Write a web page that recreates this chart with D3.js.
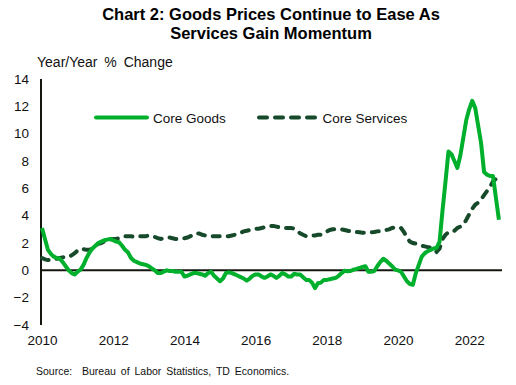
<!DOCTYPE html>
<html>
<head>
<meta charset="utf-8">
<script src="https://cdn.jsdelivr.net/npm/d3@7"></script>
<style>
  html, body { margin: 0; padding: 0; background: #fff; }
  svg { display: block; font-family: "Liberation Sans", Arial, sans-serif; }
</style>
</head>
<body>
<svg id="chart" width="516" height="385"></svg>
<script>
// ---- Data (monthly, Jan 2010 – Nov 2022) ----
const startYear = 2010;
const seriesNames = ["Core Goods", "Core Services"];
const coreGoods = [
  // 2010
  3.1, 2.3, 1.5, 1.2, 1.0, 0.9, 0.85, 0.6, 0.3, 0.0, -0.2, -0.3,
  // 2011
  -0.1, 0.05, 0.4, 0.9, 1.3, 1.6, 1.8, 2.0, 2.1, 2.2, 2.25, 2.3,
  // 2012
  2.2, 2.1, 2.05, 1.8, 1.5, 1.3, 0.9, 0.7, 0.6, 0.5, 0.45, 0.4,
  // 2013
  0.3, 0.15, 0.0, -0.2, -0.2, -0.1, 0.0, -0.05, -0.05, -0.1, -0.1, -0.1,
  // 2014
  -0.45, -0.4, -0.3, -0.2, -0.2, -0.25, -0.3, -0.4, -0.2, -0.1, -0.4, -0.6,
  // 2015
  -0.8, -0.6, -0.2, -0.15, -0.2, -0.3, -0.4, -0.5, -0.6, -0.75, -0.6, -0.4,
  // 2016
  -0.3, -0.3, -0.45, -0.55, -0.45, -0.3, -0.4, -0.55, -0.4, -0.2, -0.3, -0.45,
  // 2017
  -0.45, -0.25, -0.3, -0.3, -0.5, -0.7, -0.7, -0.9, -1.3, -0.95, -0.9, -0.7,
  // 2018
  -0.7, -0.65, -0.6, -0.55, -0.4, -0.2, -0.03, -0.07, -0.05, 0.05, 0.1, 0.17,
  // 2019
  0.25, 0.3, -0.1, -0.1, -0.05, 0.3, 0.6, 0.85, 0.7, 0.5, 0.3, 0.05,
  // 2020
  0.0, -0.1, -0.45, -0.8, -1.0, -1.05, -0.2, 0.4, 1.0, 1.25, 1.4, 1.5,
  // 2021
  1.6, 1.65, 2.1, 4.4, 6.5, 8.7, 8.5, 8.0, 7.5, 8.4, 9.7, 11.0,
  // 2022
  11.8, 12.4, 11.9, 10.6, 9.3, 7.2, 7.0, 6.9, 6.9, 5.3, 3.7
];
const coreServices = [
  // 2010
  0.9, 0.8, 0.75, 0.75, 0.8, 0.85, 0.9, 0.95, 1.0, 1.0, 1.1, 1.25,
  // 2011
  1.45, 1.57, 1.55, 1.5, 1.5, 1.6, 1.8, 1.95, 2.0, 2.1, 2.2, 2.25,
  // 2012
  2.3, 2.3, 2.35, 2.45, 2.5, 2.5, 2.5, 2.45, 2.45, 2.5, 2.5, 2.5,
  // 2013
  2.55, 2.5, 2.45, 2.35, 2.3, 2.35, 2.4, 2.4, 2.35, 2.3, 2.3, 2.35,
  // 2014
  2.35, 2.4, 2.5, 2.55, 2.7, 2.7, 2.6, 2.55, 2.5, 2.5, 2.5, 2.5,
  // 2015
  2.5, 2.5, 2.5, 2.5, 2.55, 2.6, 2.7, 2.75, 2.85, 2.9, 2.95, 3.0,
  // 2016
  3.05, 3.05, 3.1, 3.15, 3.2, 3.25, 3.25, 3.2, 3.15, 3.1, 3.1, 3.1,
  // 2017
  3.1, 3.05, 2.9, 2.7, 2.6, 2.5, 2.5, 2.55, 2.55, 2.6, 2.6, 2.7,
  // 2018
  2.85, 2.95, 3.0, 3.0, 3.0, 3.0, 2.95, 2.9, 2.85, 2.8, 2.8, 2.78,
  // 2019
  2.75, 2.75, 2.75, 2.78, 2.8, 2.85, 2.87, 2.9, 2.95, 3.0, 3.1, 3.15,
  // 2020
  3.15, 3.1, 2.8, 2.4, 2.1, 2.0, 1.95, 1.9, 1.8, 1.75, 1.7, 1.65,
  // 2021
  1.5, 1.35, 1.6, 2.3, 2.6, 2.8, 2.9, 2.9, 3.1, 3.2, 3.35, 3.7,
  // 2022
  4.1, 4.5, 4.8, 4.95, 5.2, 5.5, 5.8, 6.1, 6.5, 6.7, 6.8
];
const yTicks = [-4, -2, 0, 2, 4, 6, 8, 10, 12, 14];
const xTicks = [2010, 2012, 2014, 2016, 2018, 2020, 2022];
const titleLines = ["Chart 2: Goods Prices Continue to Ease As", "Services Gain Momentum"];
const yAxisTitle = "Year/Year % Change";
const sourceText = "Source:  Bureau of Labor Statistics, TD Economics.";

// ---- Layout ----
const svg = d3.select("#chart");
const plot = { left: 42, right: 502, top: 79, bottom: 325 };
const GREEN = "#00b02c";
const DARK = "#174a2b";
const AXIS = "#161610";

const x = d3.scaleLinear().domain([2010, 2022.92]).range([plot.left, plot.right]);
const y = d3.scaleLinear().domain([-4, 14]).range([plot.bottom, plot.top]);

const tYear = i => startYear + i / 12;

// Title
svg.append("g").selectAll("text").data(titleLines).join("text")
  .attr("x", 271).attr("y", (d, i) => 20 + i * 18.5)
  .attr("text-anchor", "middle")
  .attr("font-weight", "bold").attr("font-size", 16.5)
  .attr("fill", "#000").text(d => d);

// Y axis title
svg.append("text").attr("x", 37).attr("y", 67)
  .attr("font-size", 14).attr("fill", "#111")
  .style("word-spacing", "3px").style("white-space", "pre").text(yAxisTitle);

// Y axis (labels only, line drawn separately)
const yAxis = d3.axisLeft(y).tickValues(yTicks).tickSize(0).tickPadding(12).tickFormat(d3.format("d"));
const gy = svg.append("g").attr("transform", `translate(${plot.left - 1},0)`).call(yAxis);
gy.select(".domain").remove();
gy.selectAll("text").attr("font-size", 13.5).attr("fill", "#111").attr("font-family", "Liberation Sans, Arial, sans-serif");

// X axis labels
const xAxis = d3.axisBottom(x).tickValues(xTicks).tickSize(0).tickPadding(10).tickFormat(d3.format("d"));
const gx = svg.append("g").attr("transform", `translate(0,${plot.bottom})`).call(xAxis);
gx.select(".domain").remove();
gx.selectAll("text").attr("font-size", 13.5).attr("fill", "#111").attr("font-family", "Liberation Sans, Arial, sans-serif");

// Zero line
svg.append("line")
  .attr("x1", plot.left - 1).attr("x2", plot.right)
  .attr("y1", y(0)).attr("y2", y(0))
  .attr("stroke", AXIS).attr("stroke-width", 2);

// Y axis line
svg.append("line")
  .attr("x1", plot.left - 1).attr("x2", plot.left - 1)
  .attr("y1", plot.top).attr("y2", plot.bottom)
  .attr("stroke", AXIS).attr("stroke-width", 2);

// Lines
const line = d3.line().x((d, i) => x(tYear(i))).y(d => y(d)).curve(d3.curveLinear);

svg.append("path").datum(coreServices)
  .attr("d", line).attr("fill", "none")
  .attr("stroke", DARK).attr("stroke-width", 4)
  .attr("stroke-dasharray", "7,8").attr("stroke-linecap", "round");

svg.append("path").datum(coreGoods)
  .attr("d", line).attr("fill", "none")
  .attr("stroke", GREEN).attr("stroke-width", 4)
  .attr("stroke-linejoin", "round");

// Legend
const legend = svg.append("g");
const legY = 117.5;
legend.append("line").attr("x1", 96).attr("x2", 147).attr("y1", legY).attr("y2", legY)
  .attr("stroke", GREEN).attr("stroke-width", 4).attr("stroke-linecap", "round");
legend.append("text").attr("x", 153).attr("y", legY + 5).attr("font-size", 13.5).attr("fill", "#111").text(seriesNames[0]);
legend.append("line").attr("x1", 259).attr("x2", 316).attr("y1", legY).attr("y2", legY)
  .attr("stroke", DARK).attr("stroke-width", 4).attr("stroke-dasharray", "8,8").attr("stroke-linecap", "round");
legend.append("text").attr("x", 322.5).attr("y", legY + 5).attr("font-size", 13.5).attr("fill", "#111").text(seriesNames[1]);

// Source
svg.append("text").attr("x", 36).attr("y", 375)
  .attr("font-size", 10.5).attr("fill", "#111")
  .style("word-spacing", "2px").style("white-space", "pre")
  .text(sourceText);
</script>
</body>
</html>
